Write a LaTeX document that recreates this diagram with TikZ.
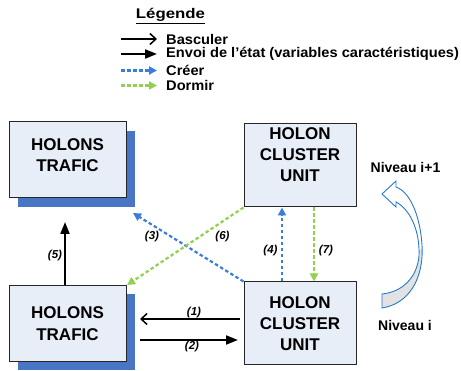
\documentclass[tikz,border=0pt]{standalone}
\usepackage{fontspec}
\setmainfont{Liberation Sans}
\newfontfamily\legtitlefont[FakeStretch=1.2]{Liberation Sans}
\newfontfamily\legfont[FakeStretch=1.045]{Liberation Sans}
\usetikzlibrary{arrows.meta,shadows}
\definecolor{boxfill}{RGB}{232,238,248}
\definecolor{shadowblue}{RGB}{72,118,196}
\definecolor{creerblue}{RGB}{58,125,218}
\definecolor{dormirgreen}{RGB}{146,208,80}
\definecolor{curveblue}{RGB}{40,120,205}
\definecolor{curvegray}{RGB}{226,226,226}
\newcommand\niveauarrowpath{(396,187) -- (396,181) -- (382,194) -- (396,207) -- (396,202)
  .. controls (411,210) and (420,232) .. (419,256)
  .. controls (417,278) and (402,292) .. (382,294) -- (382,308)
  .. controls (408,304) and (424,280) .. (422,245)
  .. controls (420,215) and (410,192) .. (396,187) -- cycle}
\begin{document}
\begin{tikzpicture}[x=1pt,y=-1pt,
  holonbox/.style={draw=black!85,line width=1pt,fill=boxfill,inner sep=0pt},
  trafficbox/.style={holonbox,minimum width=117pt,minimum height=76pt,
    drop shadow={shadow xshift=9pt,shadow yshift=-9pt,fill=shadowblue,opacity=1}},
  clusterbox/.style={holonbox,minimum width=112pt,minimum height=83pt},
  boxtext/.style={align=center,inner sep=0pt,font=\fontsize{17}{21.5}\selectfont\bfseries},
  legtext/.style={anchor=west,inner sep=0pt,font=\fontsize{14}{14}\selectfont\bfseries\legfont},
  numlabel/.style={inner sep=0pt,font=\fontsize{11.5}{11.5}\selectfont\bfseries\itshape},
  leveltext/.style={inner sep=0pt,font=\fontsize{14}{14}\selectfont\bfseries},
  basculer/.style={line width=1.8pt,-{Straight Barb[length=6pt,width=11pt,line width=1.5pt]}},
  envoi/.style={line width=1.8pt,-{Triangle[length=12pt,width=9pt]}},
  creer/.style={creerblue,line width=2.2pt,dash pattern=on 3.5pt off 2.5pt,-{Triangle[length=8pt,width=8pt]}},
  dormir/.style={dormirgreen,line width=2.2pt,dash pattern=on 3.5pt off 2.5pt,-{Triangle[length=8pt,width=8pt]}}]
\useasboundingbox (0,0) rectangle (461,371);

% legend
\node[inner sep=0pt,font=\fontsize{14}{14}\selectfont\bfseries\legtitlefont] (legtitle) at (170.5,16) {\underline{Légende}};
\coordinate (lba) at (121,39);   \coordinate (lbb) at (157,39);
\coordinate (lea) at (121,54);   \coordinate (leb) at (157,54);
\coordinate (lca) at (121,70.5); \coordinate (lcb) at (157,70.5);
\coordinate (lda) at (121,85.5); \coordinate (ldb) at (157,85.5);
\draw[basculer] (lba) -- (lbb);
\draw[envoi] (lea) -- (leb);
\draw[creer] (lca) -- (lcb);
\draw[dormir] (lda) -- (ldb);
\node[legtext] (lgb) at (166,39) {Basculer};
\node[legtext] (lge) at (166,54) {Envoi de l’état (variables caractéristiques)};
\node[legtext] (lgc) at (166,70.5) {Créer};
\node[legtext] (lgd) at (166,85.5) {Dormir};

% boxes
\node[trafficbox] (tl) at (67.5,160) {};
\node[boxtext] (tltext) at (67.5,155) {HOLONS\\TRAFIC};
\node[trafficbox] (bl) at (67.5,323.5) {};
\node[boxtext] (bltext) at (67.5,323.5) {HOLONS\\TRAFIC};
\node[clusterbox] (tr) at (300,165.5) {};
\node[boxtext,font=\fontsize{17}{21}\selectfont\bfseries] (trtext) at (300,155) {HOLON\\CLUSTER\\UNIT};
\node[clusterbox] (br) at (300,323.5) {};
\node[boxtext,font=\fontsize{17}{21}\selectfont\bfseries] (brtext) at (300,324) {HOLON\\CLUSTER\\UNIT};

% connectors
\coordinate (a1s) at (240,319); \coordinate (a1e) at (140,319);
\coordinate (a2s) at (140,340); \coordinate (a2e) at (238,340);
\draw[basculer] (a1s) -- (a1e);
\draw[envoi] (a2s) -- (a2e);
\node[numlabel] (l1) at (194,312.5) {(1)};
\node[numlabel] (l2) at (192,347) {(2)};

\coordinate (a5e) at (65,222);
\draw[envoi] (bl.north -| a5e) -- (a5e);
\node[numlabel] (l5) at (55,256) {(5)};

\coordinate (a3e) at (133,213);
\draw[creer] (br.north west) -- (a3e);
\node[numlabel] (l3) at (152,236.5) {(3)};

\coordinate (a6e) at (127,285);
\draw[dormir] (tr.south west) -- (a6e);
\node[numlabel] (l6) at (222.5,236.5) {(6)};

\coordinate (x4) at (282,0);
\draw[creer] (br.north -| x4) -- (tr.south -| x4);
\node[numlabel] (l4) at (270.5,251) {(4)};

\coordinate (x7) at (314,0);
\draw[dormir] (tr.south -| x7) -- (br.north -| x7);
\node[numlabel] (l7) at (326,251) {(7)};

% levels
\node[leveltext] (niv1) at (405.5,167.5) {Niveau i+1};
\node[leveltext] (niv0) at (405,325) {Niveau i};
\fill[white] \niveauarrowpath;
\begin{scope}
  \clip (350,250) rectangle (440,320);
  \fill[curvegray] \niveauarrowpath;
\end{scope}
\draw[curveblue,line width=0.9pt,line join=miter] \niveauarrowpath;
\end{tikzpicture}
\end{document}
